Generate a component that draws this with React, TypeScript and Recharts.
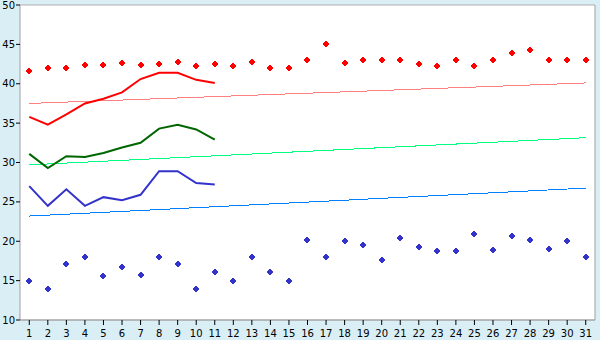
import React from "react";
import {
  ComposedChart,
  Line,
  XAxis,
  YAxis,
  CartesianGrid,
} from "recharts";

const days = [
  1, 2, 3, 4, 5, 6, 7, 8, 9, 10, 11, 12, 13, 14, 15, 16, 17, 18, 19, 20, 21,
  22, 23, 24, 25, 26, 27, 28, 29, 30, 31,
];

// daily highs (red markers) and lows (blue markers)
const highs = [
  41.6, 42.0, 42.0, 42.4, 42.4, 42.6, 42.4, 42.5, 42.7, 42.25, 42.5, 42.2,
  42.8, 42.0, 42.0, 43.0, 45.0, 42.6, 43.0, 43.0, 43.0, 42.5, 42.25, 43.0,
  42.25, 43.0, 43.9, 44.3, 43.0, 43.0, 43.0,
];
const lows = [
  15.0, 14.0, 17.1, 18.0, 15.6, 16.7, 15.7, 18.0, 17.1, 14.0, 16.1, 15.0,
  18.0, 16.1, 15.0, 20.2, 18.0, 20.0, 19.5, 17.6, 20.4, 19.3, 18.8, 18.8,
  20.9, 18.9, 20.65, 20.2, 19.0, 20.0, 18.0,
];

// running series, first 11 days only
const redLine = [35.8, 34.8, 36.1, 37.5, 38.1, 38.9, 40.6, 41.4, 41.4, 40.5, 40.1];
const greenLine = [31.1, 29.3, 30.8, 30.7, 31.2, 31.9, 32.5, 34.3, 34.8, 34.2, 32.9];
const blueLine = [27.0, 24.5, 26.6, 24.5, 25.6, 25.2, 25.9, 28.9, 28.9, 27.4, 27.2];

// trend lines: value on first and last day
const redTrend = [37.5, 40.1];
const greenTrend = [29.7, 33.15];
const blueTrend = [23.2, 26.75];

const yTicks = [10, 15, 20, 25, 30, 35, 40, 45, 50];

const data = days.map((d, i) => ({
  day: d,
  high: highs[i],
  low: lows[i],
  red: i < redLine.length ? redLine[i] : null,
  green: i < greenLine.length ? greenLine[i] : null,
  blue: i < blueLine.length ? blueLine[i] : null,
  redT: i === 0 ? redTrend[0] : i === days.length - 1 ? redTrend[1] : null,
  greenT: i === 0 ? greenTrend[0] : i === days.length - 1 ? greenTrend[1] : null,
  blueT: i === 0 ? blueTrend[0] : i === days.length - 1 ? blueTrend[1] : null,
}));

const PlusDot = (props: any) => {
  const { cx, cy, fill } = props;
  if (cx == null || cy == null || props.value == null) return null;
  const x = Math.round(cx);
  const y = Math.round(cy);
  return (
    <path
      d={`M${x - 1},${y - 3}h2v1h1v1h1v2h-1v1h-1v1h-2v-1h-1v-1h-1v-2h1v-1h1z`}
      fill={fill}
      shapeRendering="crispEdges"
    />
  );
};

const tickStyle = { fontFamily: "DejaVu Sans", fontSize: 10, fill: "#000" };

export default function App() {
  return (
    <div style={{ width: 600, height: 340, background: "#daeef5" }}>
      <style>{"body{margin:0}"}</style>
      <ComposedChart
        width={600}
        height={340}
        data={data}
        margin={{ top: 5, right: 0, bottom: 0, left: 0 }}
      >
        <CartesianGrid
          vertical={false}
          stroke="#b0b0b0"
          fill="#ffffff"
          fillOpacity={1}
        />
        <XAxis
          dataKey="day"
          scale="band"
          height={20}
          interval={0}
          tickSize={5}
          tickMargin={5}
          tick={tickStyle}
          stroke="#a0a0a0"
          tickLine={{ stroke: "#000" }}
        />
        <YAxis
          yAxisId="l"
          domain={[10, 50]}
          ticks={yTicks}
          width={20}
          tickSize={4}
          tickMargin={1}
          tick={tickStyle}
          stroke="#a0a0a0"
          tickLine={{ stroke: "#000" }}
        />
        <YAxis
          yAxisId="r"
          orientation="right"
          width={5}
          tick={false}
          tickLine={false}
          stroke="#a0a0a0"
        />
        <Line yAxisId="l" dataKey="redT" stroke="#ff8080" strokeWidth={1} dot={false} connectNulls shapeRendering="crispEdges" isAnimationActive={false} />
        <Line yAxisId="l" dataKey="greenT" stroke="#00ff80" strokeWidth={1} dot={false} connectNulls shapeRendering="crispEdges" isAnimationActive={false} />
        <Line yAxisId="l" dataKey="blueT" stroke="#0080ff" strokeWidth={1} dot={false} connectNulls shapeRendering="crispEdges" isAnimationActive={false} />
        <Line yAxisId="l" dataKey="red" stroke="#ff0000" strokeWidth={2} dot={false} type="linear" isAnimationActive={false} />
        <Line yAxisId="l" dataKey="green" stroke="#006600" strokeWidth={2} dot={false} type="linear" isAnimationActive={false} />
        <Line yAxisId="l" dataKey="blue" stroke="#3333cc" strokeWidth={2} dot={false} type="linear" isAnimationActive={false} />
        <Line yAxisId="l" dataKey="high" stroke="none" fill="#ff0000" dot={<PlusDot fill="#ff0000" />} activeDot={false} isAnimationActive={false} />
        <Line yAxisId="l" dataKey="low" stroke="none" fill="#3333cc" dot={<PlusDot fill="#3333cc" />} activeDot={false} isAnimationActive={false} />
      </ComposedChart>
    </div>
  );
}
